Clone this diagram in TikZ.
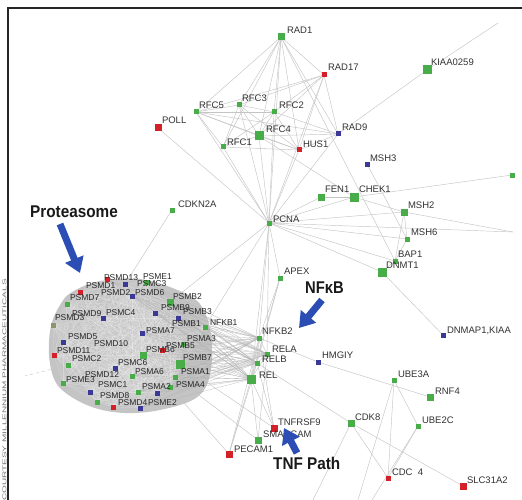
\documentclass[tikz,border=0pt]{standalone}
\usepackage{fontspec}
\usepackage{graphicx}
\setmainfont{Liberation Sans}
\usetikzlibrary{arrows.meta}
\definecolor{ngreen}{RGB}{72,172,72}
\definecolor{nred}{RGB}{212,32,40}
\definecolor{nblue}{RGB}{58,58,150}
\definecolor{nolive}{RGB}{140,150,110}
\definecolor{edgegray}{RGB}{196,196,196}
\definecolor{blobgray}{RGB}{196,196,196}
\definecolor{arrblue}{RGB}{44,78,180}
\definecolor{lblgray}{RGB}{50,50,50}
\pgfdeclarelayer{bg}
\pgfsetlayers{bg,main}
\newcommand\gn[7]{\node[#4] (#1) at (#2,#3) {};\node[lbl] (#1-t) at (#6,#7) {#5};}
\begin{document}
\begin{tikzpicture}[x=1pt,y=-1pt,
  sq/.style={rectangle,inner sep=0pt,outer sep=0pt,minimum size=5pt,draw=none},
  gs/.style={sq,fill=ngreen}, gm/.style={gs,minimum size=7pt}, gl/.style={gs,minimum size=9pt},
  rs/.style={sq,fill=nred}, rm/.style={rs,minimum size=7pt},
  bs/.style={sq,fill=nblue}, os/.style={sq,fill=nolive},
  lbl/.style={anchor=base west,inner sep=0pt,outer sep=0pt,text=lblgray,font=\fontsize{9.5}{10}\selectfont},
  clbl/.style={lbl,text=black!85,font=\fontsize{8.5}{9}\selectfont},
  big/.style={anchor=base west,inner sep=0pt,text=black!90,font=\bfseries\fontsize{17}{17}\selectfont},
  edge/.style={draw=edgegray,line width=0.45pt},
  tedge/.style={draw=black!30,line width=0.35pt,opacity=0.75},
  inner/.style={draw=white,line width=0.3pt,opacity=0.25},
  arr/.style={draw=arrblue,line width=7pt,-{Triangle[width=19pt,length=15pt]}}]
\useasboundingbox (0,0) rectangle (522,500);
\draw[line width=1.3pt,black!85] (8,500) -- (8,8) -- (522,8);
\node[rotate=90,inner sep=0pt,text=black!55] (credit) at (4.5,390)
  {\scalebox{1.82}[1]{\fontsize{5.5}{6}\selectfont COURTESY MILLENNIUM PHARMACEUTICALS}};

% ---- main nodes
\gn{RAD1}{281}{37}{gm}{RAD1}{287}{34}
\gn{RAD17}{324}{75}{rs}{RAD17}{328}{71}
\gn{KIAA}{427}{70}{gl}{KIAA0259}{431}{66}
\gn{RFC3}{239}{105}{gs}{RFC3}{242}{102}
\gn{RFC5}{196}{112}{gs}{RFC5}{199}{109}
\gn{RFC2}{274}{112}{gs}{RFC2}{279}{109}
\gn{POLL}{158}{128}{rm}{POLL}{162}{124}
\gn{RFC4}{259}{136}{gl}{RFC4}{266}{133}
\gn{RAD9}{338}{134}{bs}{RAD9}{342}{131}
\gn{RFC1}{223}{147}{gs}{RFC1}{227}{146}
\gn{HUS1}{299}{150}{rs}{HUS1}{303}{148}
\gn{MSH3}{367}{164}{bs}{MSH3}{370}{161}
\node[gs] (rn) at (512,175) {};
\gn{FEN1}{321}{197}{gm}{FEN1}{325}{193}
\gn{CHEK1}{354}{197}{gl}{CHEK1}{359}{193}
\gn{MSH2}{404}{212}{gm}{MSH2}{408}{208}
\gn{PCNA}{269}{223}{gs}{PCNA}{273}{222}
\gn{CDKN2A}{172}{210}{gs}{CDKN2A}{178}{207}
\gn{MSH6}{407}{239}{gs}{MSH6}{411}{235}
\gn{BAP1}{395}{261}{gs}{BAP1}{398}{257}
\gn{DNMT1}{382}{272}{gl}{DNMT1}{386}{268}
\gn{APEX}{280}{278}{gs}{APEX}{284}{274}
\gn{DNMAP1}{443}{335}{bs}{DNMAP1,KIAA}{447}{333}
\gn{NFKB2}{259}{338}{gs}{NFKB2}{262}{334}
\gn{RELA}{267}{354}{gs}{RELA}{272}{352}
\gn{RELB}{257}{363}{gs}{RELB}{262}{362}
\gn{REL}{251}{379}{gl}{REL}{259}{378}
\gn{HMGIY}{318}{362}{bs}{HMGIY}{322}{358}
\gn{UBE3A}{394}{380}{gs}{UBE3A}{398}{377}
\gn{RNF4}{430}{397}{gm}{RNF4}{435}{394}
\gn{CDK8}{351}{423}{gm}{CDK8}{355}{420}
\gn{UBE2C}{418}{426}{gs}{UBE2C}{422}{423}
\gn{TNFRSF9}{274}{428}{rm}{TNFRSF9}{278}{425}
\gn{SMA}{258}{440}{gm}{SMADCAM}{263}{437}
\gn{PECAM1}{229}{454}{rm}{PECAM1}{234}{452}
\gn{CDC34}{388}{478}{rs}{CDC \ 4}{392}{475}
\gn{SLC31A2}{463}{486}{rm}{SLC31A2}{467}{483}
\coordinate (oTR) at (498,23);
\coordinate (oR) at (513,232);
\coordinate (oB1) at (313,500);
\coordinate (oB2) at (358,500);
\coordinate (oB3) at (372,500);
\coordinate (oL) at (25,376);

% ---- cluster nodes
\foreach \n/\x/\y/\st in {
1/107/279/rs, 2/80/292/rs, 3/54/355/rs, 4/162/350/rs, 5/113/407/rs,
6/132/296/bs, 7/155/313/bs, 8/103/318/bs, 9/142/333/bs, 10/63/342/bs, 11/115/368/bs,
12/90/392/bs, 13/157/393/bs, 14/140/408/bs, 15/125/284/bs, 16/178/318/bs,
17/170/302/gm, 18/67/304/gs, 19/143/355/gm, 20/68/365/gs, 21/63/383/gs, 22/97/402/gs,
23/132/376/gs, 24/138/392/gs, 25/180/364/gl, 26/175/377/gs, 27/170/387/gs, 28/205/327/gs,
29/146/282/gs, 30/53/325/os, 31/183/344/gs}
  {\node[\st] (c\n) at (\x,\y) {};}
\foreach \n/\lab/\x/\y in {
1/PSMD13/104/280, 2/PSME1/143/279, 3/PSMC3/137/286, 4/PSMD1/86/288, 5/PSMD2/101/295,
6/PSMD6/135/295, 7/PSMD7/70/300, 8/PSMB2/173/299, 9/PSMB9/161/310, 10/PSMB3/183/314,
11/PSMD9/72/316, 12/PSMC4/106/315, 13/PSMD3/55/320, 14/PSMB1/172/326, 15/PSMA7/146/333,
16/PSMA3/187/341, 17/PSMD5/68/339, 18/PSMD10/94/346, 19/PSMD11/57/353, 20/PSMB6/146/352,
21/PSMB5/166/348, 22/PSMC2/72/361, 23/PSMC6/118/365, 24/PSMB7/183/360, 25/PSMA6/135/374,
26/PSMA1/181/374, 27/PSMD12/85/377, 28/PSME3/66/382, 29/PSMC1/98/387, 30/PSMA2/142/389,
31/PSMA4/176/387, 32/PSMD8/100/398, 33/PSMD4/118/405, 34/PSME2/148/405, 35/NFKB1/210/325}
  {\node[clbl] (p\n) at (\x,\y) {\lab};}

% ---- edges (background)
\begin{pgfonlayer}{bg}
\fill[blobgray] plot[smooth cycle,tension=0.6] coordinates {(72,292) (100,281) (140,279) (175,289) (200,304) (211,335) (210,375) (196,398) (160,410) (125,413) (95,408) (70,396) (55,381) (49,355) (51,326) (60,305)};
\foreach \i in {1,...,30}{
  \pgfmathtruncatemacro\k{\i+1}
  \foreach \j in {\k,...,31}{\draw[inner] (c\i.center) -- (c\j.center);}}
\foreach \s in {17,16,28,7,9,4,31,25,26,27,13,19,24,14,29,6,1,23}
  \foreach \t in {NFKB2,RELA,RELB,REL}
    {\draw[tedge] (c\s.center) -- (\t.center);}
\foreach \a/\b in {NFKB2/RELA,NFKB2/RELB,NFKB2/REL,RELA/RELB,RELA/REL,RELB/REL,
  RAD1/RFC5,RAD1/RFC3,RAD1/RFC2,RAD1/RFC4,RAD1/RFC1,RAD1/RAD17,RAD1/RAD9,RAD1/HUS1,RAD1/PCNA,RAD1/BAP1,
  RAD17/RFC5,RAD17/RFC3,RAD17/RFC2,RAD17/RFC4,RAD17/HUS1,RAD17/RAD9,RAD17/PCNA,
  RFC5/RFC3,RFC5/RFC2,RFC5/RFC4,RFC5/RFC1,RFC5/PCNA,RFC5/HUS1,RFC5/RAD9,
  RFC3/RFC2,RFC3/RFC4,RFC3/RFC1,RFC3/PCNA,RFC3/HUS1,
  RFC2/RFC4,RFC2/RFC1,RFC2/RAD9,RFC2/PCNA,RFC2/HUS1,
  RFC4/RFC1,RFC4/PCNA,RFC4/RAD9,RFC4/HUS1,RFC4/CHEK1,
  RFC1/PCNA,RFC1/HUS1,HUS1/RAD9,HUS1/PCNA,RAD9/PCNA,RAD9/KIAA,KIAA/oTR,POLL/PCNA,
  MSH3/MSH6,PCNA/FEN1,PCNA/CHEK1,PCNA/MSH2,PCNA/MSH6,PCNA/BAP1,PCNA/DNMT1,PCNA/APEX,
  PCNA/NFKB2,PCNA/RELA,PCNA/REL,PCNA/c17,PCNA/c28,FEN1/CHEK1,CHEK1/MSH2,CHEK1/rn,
  MSH2/MSH6,MSH2/BAP1,MSH2/oR,PCNA/oR,MSH6/BAP1,BAP1/DNMT1,DNMT1/DNMAP1,
  APEX/NFKB2,APEX/REL,APEX/RELB,CDKN2A/c15,NFKB2/HMGIY,HMGIY/RNF4,RELB/CDK8,
  CDK8/SLC31A2,CDK8/CDC34,CDK8/oB1,UBE3A/UBE2C,UBE3A/CDC34,UBE3A/oB2,UBE2C/CDC34,UBE2C/oB3,
  REL/PECAM1,REL/SMA,REL/TNFRSF9,RELB/PECAM1,RELB/TNFRSF9,RELA/SMA,NFKB2/PECAM1,NFKB2/TNFRSF9,
  c27/PECAM1,c26/SMA,c25/TNFRSF9}
  {\draw[edge] (\a.center) -- (\b.center);}
\draw[edge,dashed] (c20.center) -- (oL);
\end{pgfonlayer}

% ---- annotations
\node[big] (tProt) at (30,217) {\scalebox{0.9}[1]{Proteasome}};
\node[big] (tNFkB) at (305,293) {\scalebox{0.87}[1]{NFκB}};
\node[big] (tTNF) at (273,469) {\scalebox{0.9}[1]{TNF Path}};
\coordinate (a1s) at (60,224); \coordinate (a1e) at (80,273);
\coordinate (a2s) at (322,300); \coordinate (a2e) at (299,328);
\coordinate (a3s) at (297,453); \coordinate (a3e) at (284,428);
\draw[arr] (a1s) -- (a1e);
\draw[arr] (a2s) -- (a2e);
\draw[arr] (a3s) -- (a3e);
\end{tikzpicture}
\end{document}
